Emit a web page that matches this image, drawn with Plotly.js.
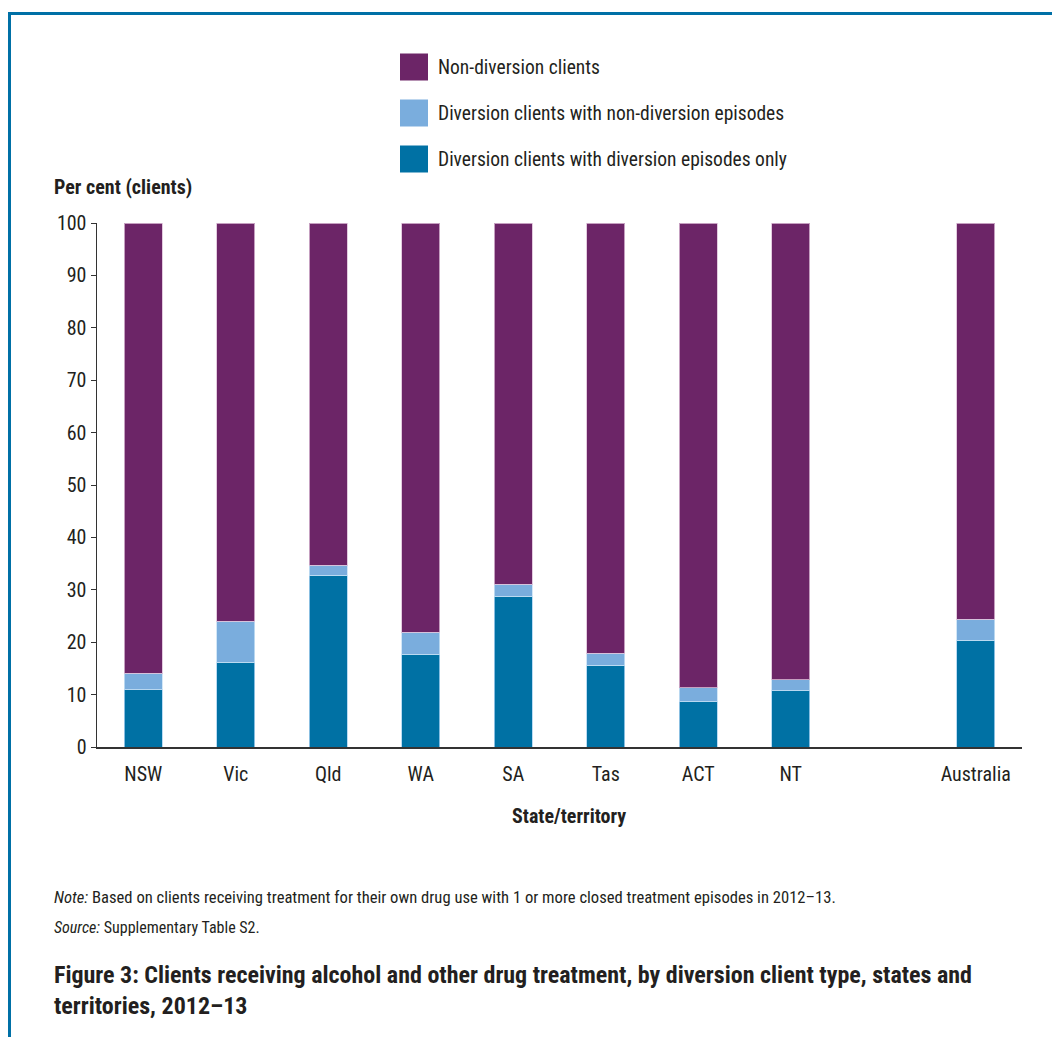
<!DOCTYPE html>
<html>
<head>
<meta charset="utf-8">
<script src="https://cdn.plot.ly/plotly-3.0.1.min.js"></script>
<style>
  html, body { margin: 0; padding: 0; background: #fff; }
  #frame { position: absolute; left: 8px; top: 12px; width: 1044px; height: 1025px;
           border-top: 3px solid #0070a6; border-left: 3px solid #0070a6; box-sizing: border-box; }
  #chart { position: absolute; left: 0; top: 0; width: 1052px; height: 1037px; }
</style>
</head>
<body>
<div id="frame"></div>
<div id="chart"></div>
<script>
const categories = ["NSW", "Vic", "Qld", "WA", "SA", "Tas", "ACT", "NT", " ", "Australia"];
const diversionOnly = [10.9, 16.2, 32.8, 17.7, 28.8, 15.6, 8.6, 10.7, null, 20.4];
const diversionWithNonDiversion = [3.2, 7.8, 1.9, 4.2, 2.3, 2.3, 2.7, 2.1, null, 4.0];
const nonDiversion = [85.9, 76.0, 65.3, 78.1, 68.9, 82.1, 88.7, 87.2, null, 75.6];
const seriesNames = ["Non-diversion clients", "Diversion clients with non-diversion episodes", "Diversion clients with diversion episodes only"];
const yTicks = [0, 10, 20, 30, 40, 50, 60, 70, 80, 90, 100];

const colors = { non: "#6c2567", mixed: "#7aaddd", only: "#0071a4" };
const FONT = "'Liberation Sans Narrow', 'Arial Narrow', 'Roboto Condensed', sans-serif";
const TXT = "#231f20";

const W = 1052, H = 1037;
const M = { l: 97, r: 30, t: 223, b: 290 };
const pw = W - M.l - M.r, ph = H - M.t - M.b;
const px = x => (x - M.l) / pw;
const py = y => (H - M.b - y) / ph;

const common = { type: "bar", x: categories, showlegend: false, hoverinfo: "y+name" };
const traces = [
  Object.assign({}, common, { name: seriesNames[2], y: diversionOnly,
    marker: { color: colors.only, line: { color: "rgba(170,210,240,0.8)", width: 1 } } }),
  Object.assign({}, common, { name: seriesNames[1], y: diversionWithNonDiversion,
    marker: { color: colors.mixed, line: { color: "rgba(200,225,245,0.8)", width: 1 } } }),
  Object.assign({}, common, { name: seriesNames[0], y: nonDiversion,
    marker: { color: colors.non, line: { color: "rgba(220,190,215,0.8)", width: 1 } } })
];

const legendColors = [colors.non, colors.mixed, colors.only];
const legendY = [67, 113, 159];
const shapes = [];
const annotations = [];
legendColors.forEach((c, i) => {
  shapes.push({ type: "rect", xref: "paper", yref: "paper",
    x0: px(400), x1: px(428), y0: py(legendY[i] - 13.5), y1: py(legendY[i] + 13.5),
    fillcolor: c, line: { width: 0 } });
  annotations.push({ xref: "paper", yref: "paper", x: px(436), y: py(legendY[i]),
    xanchor: "left", yanchor: "middle", showarrow: false, text: seriesNames[i],
    font: { family: FONT, size: 19.5, color: TXT } });
});

annotations.push(
  { xref: "paper", yref: "paper", x: px(52), y: py(187), xanchor: "left", yanchor: "middle",
    showarrow: false, text: "<b>Per cent (clients)</b>", font: { family: FONT, size: 20, color: TXT } },
  { xref: "paper", yref: "paper", x: px(569), y: py(816), xanchor: "center", yanchor: "middle",
    showarrow: false, text: "<b>State/territory</b>", font: { family: FONT, size: 20, color: TXT } },
  { xref: "paper", yref: "paper", x: px(52), y: py(897), xanchor: "left", yanchor: "middle",
    showarrow: false, text: "<i>Note:</i> Based on clients receiving treatment for their own drug use with 1 or more closed treatment episodes in 2012–13.",
    font: { family: FONT, size: 16.6, color: TXT } },
  { xref: "paper", yref: "paper", x: px(52), y: py(927), xanchor: "left", yanchor: "middle",
    showarrow: false, text: "<i>Source:</i> Supplementary Table S2.",
    font: { family: FONT, size: 16, color: TXT } },
  { xref: "paper", yref: "paper", x: px(52), y: py(975), xanchor: "left", yanchor: "middle",
    showarrow: false, text: "<b>Figure 3: Clients receiving alcohol and other drug treatment, by diversion client type, states and</b>",
    font: { family: FONT, size: 24, color: TXT } },
  { xref: "paper", yref: "paper", x: px(52), y: py(1006), xanchor: "left", yanchor: "middle",
    showarrow: false, text: "<b>territories, 2012–13</b>",
    font: { family: FONT, size: 24, color: TXT } }
);

const layout = {
  width: W, height: H,
  margin: M,
  paper_bgcolor: "rgba(0,0,0,0)",
  plot_bgcolor: "rgba(0,0,0,0)",
  barmode: "stack",
  bargap: 0.59,
  font: { family: FONT, size: 20, color: TXT },
  xaxis: {
    type: "category", categoryorder: "array", categoryarray: categories,
    range: [-0.5, 9.5], showline: true, linecolor: "#333", linewidth: 2,
    ticks: "", showgrid: false, zeroline: false, ticklabelstandoff: 8,
    tickfont: { family: FONT, size: 20, color: TXT }, automargin: false
  },
  yaxis: {
    range: [0, 100], tickvals: yTicks, ticktext: yTicks.map(String),
    showline: true, linecolor: "#333", linewidth: 1.5,
    ticks: "outside", ticklen: 5, tickcolor: "#333", showgrid: false, zeroline: false,
    tickfont: { family: FONT, size: 20, color: TXT }, automargin: false
  },
  shapes: shapes,
  annotations: annotations
};

Plotly.newPlot("chart", traces, layout, { staticPlot: true, displayModeBar: false });
</script>
</body>
</html>
